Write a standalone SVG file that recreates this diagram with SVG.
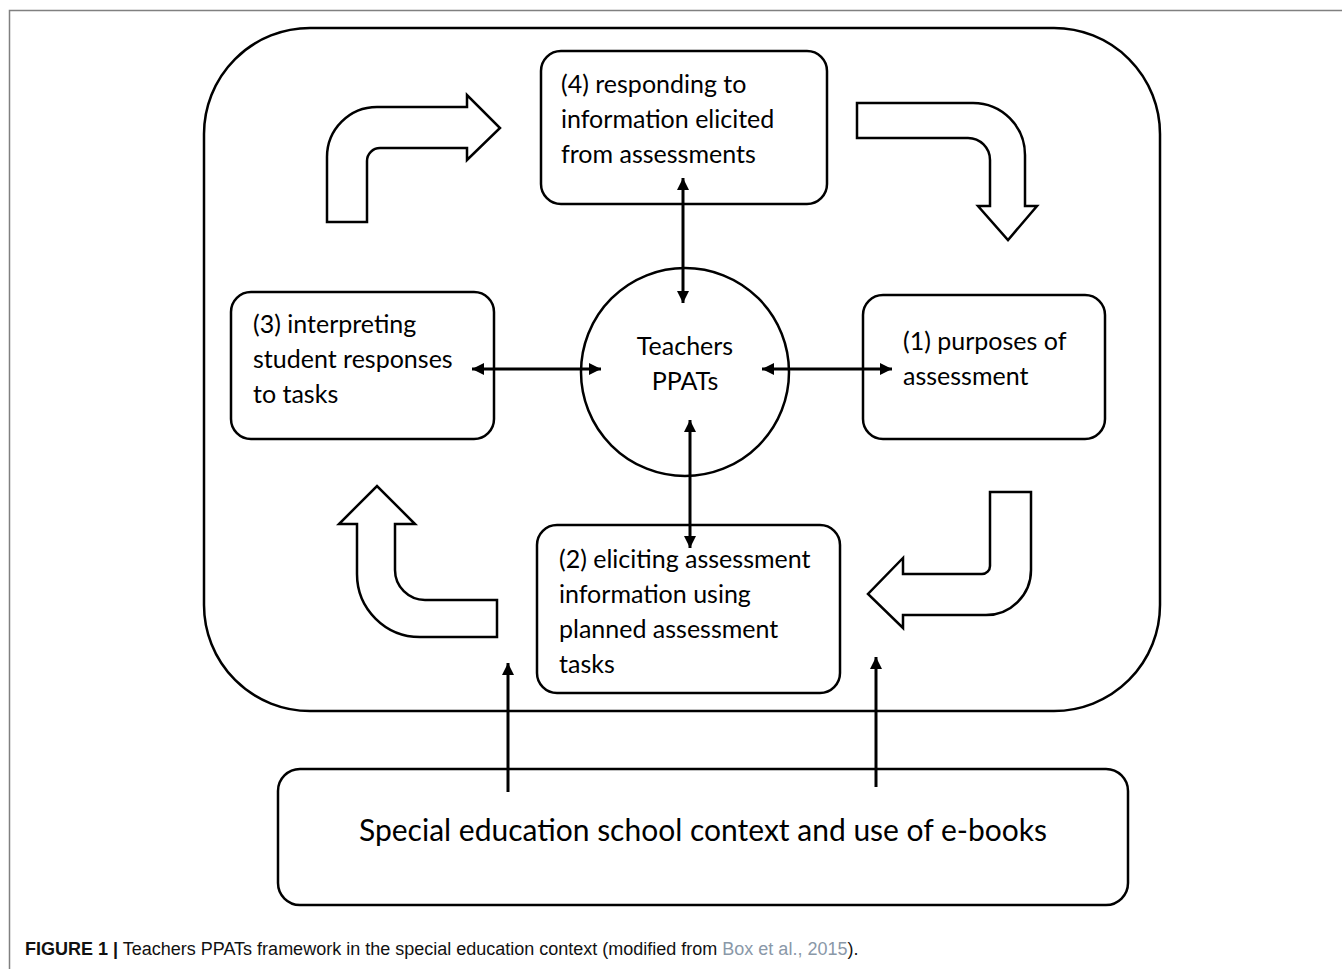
<svg xmlns="http://www.w3.org/2000/svg" width="1342" height="969" viewBox="0 0 1342 969">
<style>
.box{fill:#fff;stroke:#000;stroke-width:2.5}
.blk{fill:#fff;stroke:#000;stroke-width:2.5;stroke-linejoin:miter}
.t{font-family:Lato,"Open Sans",sans-serif;font-size:25px;fill:#000}
.con{stroke:#000;stroke-width:3;fill:none}
.cap{font-family:"Liberation Sans",Arial,sans-serif;font-size:18px;fill:#111}
</style>
<defs>
<marker id="ah" viewBox="0 0 10 10" refX="10" refY="5" markerWidth="12" markerHeight="12" markerUnits="userSpaceOnUse" orient="auto-start-reverse">
<path d="M0,0 L10,5 L0,10 Z" fill="#000"/>
</marker>
</defs>
<rect width="1342" height="969" fill="#fff"/>
<path d="M9.5,969 L9.5,10.5 L1342,10.5" fill="none" stroke="#808080" stroke-width="1.5"/>
<g id="frame">
<rect class="box" x="204" y="28" width="956" height="683" rx="106" ry="106"/>
</g>
<g id="bent-arrows">
<path class="blk" d="M327,222 L327,157 A50,50 0 0 1 377,107 L467,107 L467,95 L500,128 L467,160 L467,148 L380,148 A13,13 0 0 0 367,161 L367,222 Z"/>
<path class="blk" d="M857,103 L973,103 A52,52 0 0 1 1025,155 L1025,206 L1037,206 L1008,240 L978,206 L990,206 L990,160 A22,22 0 0 0 968,138 L857,138 Z"/>
<path class="blk" d="M990,492 L1031,492 L1031,570 A45,45 0 0 1 986,615 L903,615 L903,628 L868,594 L903,558 L903,574 L982,574 A8,8 0 0 0 990,566 Z"/>
<path class="blk" d="M357,524 L339,524 L377,486 L415,524 L395,524 L395,570 A30,30 0 0 0 425,600 L497,600 L497,637 L420,637 A63,63 0 0 1 357,574 Z"/>
</g>
<g id="n4">
<rect class="box" x="541" y="51" width="286" height="153" rx="20"/>
<text class="t" x="561" y="93">(4) responding to</text>
<text class="t" x="561" y="128">information elicited</text>
<text class="t" x="561" y="163">from assessments</text>
</g>
<g id="n3">
<rect class="box" x="231" y="292" width="263" height="147" rx="20"/>
<text class="t" x="253" y="333">(3) interpreting</text>
<text class="t" x="253" y="368">student responses</text>
<text class="t" x="253" y="403">to tasks</text>
</g>
<g id="n1">
<rect class="box" x="863" y="295" width="242" height="144" rx="20"/>
<text class="t" x="903" y="350">(1) purposes of</text>
<text class="t" x="903" y="385">assessment</text>
</g>
<g id="n2">
<rect class="box" x="537" y="525" width="303" height="168" rx="20"/>
<text class="t" x="559" y="568">(2) eliciting assessment</text>
<text class="t" x="559" y="603">information using</text>
<text class="t" x="559" y="638">planned assessment</text>
<text class="t" x="559" y="673">tasks</text>
</g>
<g id="center">
<circle class="box" cx="685" cy="372" r="104"/>
<text class="t" x="685" y="355" text-anchor="middle">Teachers</text>
<text class="t" x="685" y="390" text-anchor="middle">PPATs</text>
</g>
<g id="context">
<rect class="box" x="278" y="769" width="850" height="136" rx="22"/>
<text class="t" x="703" y="841" text-anchor="middle" style="font-size:30px">Special education school context and use of e-books</text>
</g>
<g id="connectors">
<line class="con" x1="683" y1="178" x2="683" y2="303" marker-start="url(#ah)" marker-end="url(#ah)"/>
<line class="con" x1="472" y1="369" x2="601" y2="369" marker-start="url(#ah)" marker-end="url(#ah)"/>
<line class="con" x1="762" y1="369" x2="892" y2="369" marker-start="url(#ah)" marker-end="url(#ah)"/>
<line class="con" x1="690" y1="420" x2="690" y2="548" marker-start="url(#ah)" marker-end="url(#ah)"/>
<line class="con" x1="508" y1="792" x2="508" y2="663" marker-end="url(#ah)"/>
<line class="con" x1="876" y1="787" x2="876" y2="657" marker-end="url(#ah)"/>
</g>
<text class="cap" x="25" y="955"><tspan font-weight="bold">FIGURE 1 |</tspan> Teachers PPATs framework in the special education context (modified from <tspan fill="#8a98a8">Box et al., 2015</tspan>).</text>
</svg>
